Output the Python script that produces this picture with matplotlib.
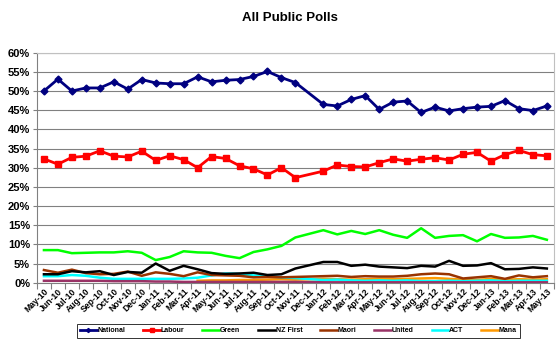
import numpy as np
import matplotlib
matplotlib.use("Agg")
import matplotlib.pyplot as plt

nan = np.nan
months = ["May-10","Jun-10","Jul-10","Aug-10","Sep-10","Oct-10","Nov-10","Dec-10",
          "Jan-11","Feb-11","Mar-11","Apr-11","May-11","Jun-11","Jul-11","Aug-11",
          "Sep-11","Oct-11","Nov-11","Dec-11","Jan-12","Feb-12","Mar-12","Apr-12",
          "May-12","Jun-12","Jul-12","Aug-12","Sep-12","Oct-12","Nov-12","Dec-12",
          "Jan-13","Feb-13","Mar-13","Apr-13","May-13"]

national = [50.0,53.1,50.0,50.8,50.8,52.4,50.5,53.0,52.1,51.9,51.9,53.7,52.4,52.8,53.0,53.8,
            55.1,53.5,52.2,nan,46.5,46.1,47.8,48.8,45.2,47.1,47.4,44.4,45.8,44.8,45.4,45.8,
            46.0,47.5,45.4,44.9,46.1]
labour = [32.3,30.9,32.7,33.0,34.4,33.0,32.8,34.3,31.9,33.1,32.1,30.0,32.9,32.4,30.5,29.7,
          28.1,30.0,27.4,nan,29.1,30.7,30.3,30.2,31.3,32.3,31.7,32.2,32.6,32.0,33.5,34.0,
          31.7,33.4,34.5,33.4,33.1]
green = [8.5,8.5,7.7,7.8,7.9,7.9,8.2,7.8,5.9,6.7,8.2,7.9,7.8,7.0,6.4,8.0,
         8.7,9.6,11.8,nan,13.7,12.6,13.5,12.7,13.7,12.5,11.7,14.2,11.7,12.2,12.4,10.8,
         12.7,11.7,11.8,12.2,11.2]
nzfirst = [2.2,2.2,3.0,2.7,3.0,2.0,2.8,2.6,5.0,3.1,4.4,3.5,2.5,2.3,2.4,2.6,
           2.0,2.2,3.7,nan,5.4,5.4,4.4,4.7,4.2,4.0,3.8,4.4,4.2,5.7,4.4,4.5,
           5.1,3.5,3.6,4.0,3.7]
maori = [3.3,2.6,3.4,2.5,2.2,2.3,2.9,1.8,2.7,2.3,1.7,2.7,2.0,1.9,1.8,1.4,
         1.5,1.4,1.5,nan,1.7,1.8,1.5,1.7,1.6,1.6,1.8,2.2,2.4,2.2,1.1,1.4,
         1.7,1.0,1.9,1.4,1.7]
united = [0.5,0.5,0.5,0.5,0.5,0.4,0.4,0.4,0.3,0.3,0.2,0.2,0.2,0.2,0.2,0.2,
          0.2,0.2,0.2,nan,0.1,0.1,0.1,0.1,0.1,0.1,0.1,0.1,0.1,0.1,0.1,0.1,
          0.1,0.1,0.1,0.1,0.1]
act = [1.7,1.7,2.0,1.8,1.3,1.0,1.0,1.0,1.0,1.0,1.1,1.3,1.9,2.4,2.3,1.9,
       1.7,1.4,1.2,nan,0.7,0.8,0.6,0.5,0.6,0.5,0.6,0.4,0.4,0.5,0.4,0.5,
       0.6,0.4,0.5,0.5,0.5]
mana = [nan,nan,nan,nan,nan,nan,nan,nan,nan,nan,nan,0.5,0.6,0.6,0.7,0.7,
        0.8,0.9,0.8,nan,1.0,0.9,0.8,0.9,1.0,0.9,1.0,1.1,1.2,1.0,0.8,0.7,
        1.0,0.8,0.9,0.8,0.9]

series = [
    ("National", national, "#000080", "D"),
    ("Labour", labour, "#FF0000", "s"),
    ("Green", green, "#00FF00", None),
    ("NZ First", nzfirst, "#000000", None),
    ("Maori", maori, "#993300", None),
    ("United", united, "#993366", None),
    ("ACT", act, "#00FFFF", None),
    ("Mana", mana, "#FF9900", None),
]

plt.rcParams['font.family'] = ['Liberation Sans', 'DejaVu Sans']
fig = plt.figure(figsize=(5.6, 3.41), dpi=100)
ax = fig.add_axes([0.066, 0.171, 0.923, 0.6745])

x = np.arange(len(months))
for name, vals, col, mk in reversed(series):
    v = np.array(vals, dtype=float)
    mask = ~np.isnan(v)
    if mk == "D":
        ax.plot(x[mask], v[mask], color=col, lw=2, marker="D", ms=3.5, zorder=5, label=name)
    elif mk == "s":
        ax.plot(x[mask], v[mask], color=col, lw=2, marker="s", ms=5, zorder=4, label=name)
    else:
        ax.plot(x[mask], v[mask], color=col, lw=1.8, zorder=3, label=name)

ax.set_xlim(-0.5, len(months) - 0.5)
ax.set_ylim(0, 60)
ax.set_yticks(np.arange(0, 61, 5))
ax.set_yticklabels([f"{v}%" for v in range(0, 61, 5)], fontsize=8, fontweight="bold")
ax.yaxis.grid(True, color="#808080", lw=0.8)
ax.set_axisbelow(True)

ax.set_xticks(np.arange(-0.5, len(months), 1.0))
ax.set_xticklabels([])
ax.set_xticks(x, minor=True)
ax.set_xticklabels(months, minor=True, rotation=45, ha="right", va="top",
                   fontsize=6.2, fontweight="bold", rotation_mode="anchor")
ax.tick_params(axis="x", which="major", length=4, color="#808080", direction="out")
ax.tick_params(axis="x", which="minor", length=0, pad=3)
ax.tick_params(axis="y", length=3, color="#808080", pad=2)

for s in ["top", "right"]:
    ax.spines[s].set_color("#C0C0C0")
    ax.spines[s].set_linewidth(0.8)
ax.spines["left"].set_color("#808080")
ax.spines["bottom"].set_color("#808080")

fig.text(0.518, 0.948, "All Public Polls", ha="center", va="center",
         fontsize=9.5, fontweight="bold")

handles, labels = ax.get_legend_handles_labels()
order = [labels.index(n) for n, *_ in series]
leg = fig.legend([handles[i] for i in order], [labels[i] for i in order],
                 loc="center", bbox_to_anchor=(0.533, 0.03), ncol=8, fontsize=5,
                 frameon=True, fancybox=False, edgecolor="#000000",
                 handlelength=2.4, handletextpad=0.1, columnspacing=2.6,
                 borderpad=0.5, markerscale=0.6)
leg.get_frame().set_linewidth(0.7)
for t in leg.get_texts():
    t.set_fontweight("bold")

fig.savefig("out.png", dpi=100)
